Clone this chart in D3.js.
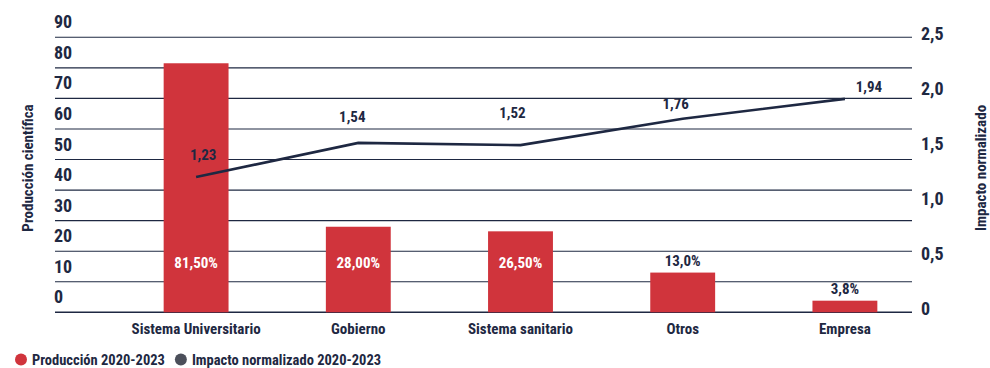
<!DOCTYPE html>
<html>
<head>
<meta charset="utf-8">
<script src="https://cdn.jsdelivr.net/npm/d3@7"></script>
<style>
  html, body { margin: 0; padding: 0; background: #fff; }
  svg text { font-family: "Liberation Sans Narrow", "Roboto Condensed", "Arial Narrow", sans-serif; font-weight: bold; }
</style>
</head>
<body>
<svg id="chart" width="990" height="368"></svg>
<script>
// Producción científica e impacto normalizado por sector, 2020-2023
const categories = ["Sistema Universitario", "Gobierno", "Sistema sanitario", "Otros", "Empresa"];
const production = [81.5, 28.0, 26.5, 13.0, 3.8];
const productionLabels = ["81,50%", "28,00%", "26,50%", "13,0%", "3,8%"];
const impact = [1.23, 1.54, 1.52, 1.76, 1.94];
const impactLabels = ["1,23", "1,54", "1,52", "1,76", "1,94"];
const leftTicks = [0, 10, 20, 30, 40, 50, 60, 70, 80, 90];
const rightTicks = [0, 0.5, 1.0, 1.5, 2.0, 2.5];
const rightTickLabels = ["0", "0,5", "1,0", "1,5", "2,0", "2,5"];
const legendItems = ["Producción 2020-2023", "Impacto normalizado 2020-2023"];

// label nudges for the impact values (dx, dy from the point)
const impactLabelNudge = [[7, -22], [-6, -26], [-8, -32], [-7, -15], [24, -12]];

const ink = "#1e2842";
const red = "#d0343c";
const grey = "#4b4f5a";

const svg = d3.select("#chart");

const gridLeft = 55, gridRight = 912, plotTop = 37.3, plotBottom = 312.3;

const x = d3.scaleBand().domain(categories).range([115, 926]).paddingInner(0.6).paddingOuter(0.3);
const yL = d3.scaleLinear().domain([0, 90]).range([plotBottom, plotTop]);
const yR = d3.scaleLinear().domain([0, 2.5]).range([plotBottom, plotTop]);

// horizontal gridlines
svg.append("g").selectAll("line").data(leftTicks).join("line")
  .attr("x1", gridLeft).attr("x2", gridRight)
  .attr("y1", d => yL(d)).attr("y2", d => yL(d))
  .attr("stroke", ink).attr("stroke-width", d => d === 0 ? 1.6 : 1.1);

// left axis labels sit just above their gridline
svg.append("g").selectAll("text").data(leftTicks).join("text")
  .attr("x", 54).attr("y", d => yL(d) - 9)
  .attr("fill", ink).attr("font-size", 18)
  .text(d => d);

// right axis labels
svg.append("g").selectAll("text").data(rightTicks).join("text")
  .attr("x", 921).attr("y", d => yR(d) + 3)
  .attr("fill", ink).attr("font-size", 18)
  .text((d, i) => rightTickLabels[i]);

// axis titles
svg.append("text")
  .attr("transform", `translate(33, ${168}) rotate(-90)`)
  .attr("text-anchor", "middle").attr("fill", ink).attr("font-size", 15)
  .text("Producción científica");
svg.append("text")
  .attr("transform", `translate(986, ${168}) rotate(-90)`)
  .attr("text-anchor", "middle").attr("fill", ink).attr("font-size", 15)
  .text("Impacto normalizado");

// bars
svg.append("g").selectAll("rect").data(production).join("rect")
  .attr("x", (d, i) => x(categories[i]))
  .attr("width", x.bandwidth())
  .attr("y", d => yL(d))
  .attr("height", d => yL(0) - yL(d))
  .attr("fill", red);

// bar value labels: inside (white) for tall bars, above otherwise
svg.append("g").selectAll("text").data(production).join("text")
  .attr("x", (d, i) => x(categories[i]) + x.bandwidth() / 2)
  .attr("y", d => d > 20 ? yL(14.5) : yL(d) - 7)
  .attr("text-anchor", "middle")
  .attr("fill", d => d > 20 ? "#fff" : ink)
  .attr("font-size", 15)
  .text((d, i) => productionLabels[i]);

// category labels
svg.append("g").selectAll("text").data(categories).join("text")
  .attr("x", d => x(d) + x.bandwidth() / 2)
  .attr("y", 334)
  .attr("text-anchor", "middle").attr("fill", ink).attr("font-size", 15)
  .text(d => d);

// impact line
const cx = (i) => x(categories[i]) + x.bandwidth() / 2;
svg.append("path")
  .datum(impact)
  .attr("d", d3.line().x((d, i) => cx(i)).y(d => yR(d)))
  .attr("fill", "none").attr("stroke", ink).attr("stroke-width", 2.6);

svg.append("g").selectAll("text").data(impact).join("text")
  .attr("x", (d, i) => cx(i) + impactLabelNudge[i][0])
  .attr("y", (d, i) => yR(d) + impactLabelNudge[i][1] + 5)
  .attr("text-anchor", "middle").attr("fill", ink).attr("font-size", 15)
  .text((d, i) => impactLabels[i]);

// legend
const legendColors = [red, grey];
const lg = svg.append("g");
let lx = 21;
legendItems.forEach((t, i) => {
  lg.append("circle").attr("cx", lx).attr("cy", 359.5).attr("r", 6).attr("fill", legendColors[i]);
  const tx = lg.append("text").attr("x", lx + 11).attr("y", 364.5)
    .attr("fill", ink).attr("font-size", 14.5).text(t);
  lx += 11 + tx.node().getComputedTextLength() + 16;
});
</script>
</body>
</html>
